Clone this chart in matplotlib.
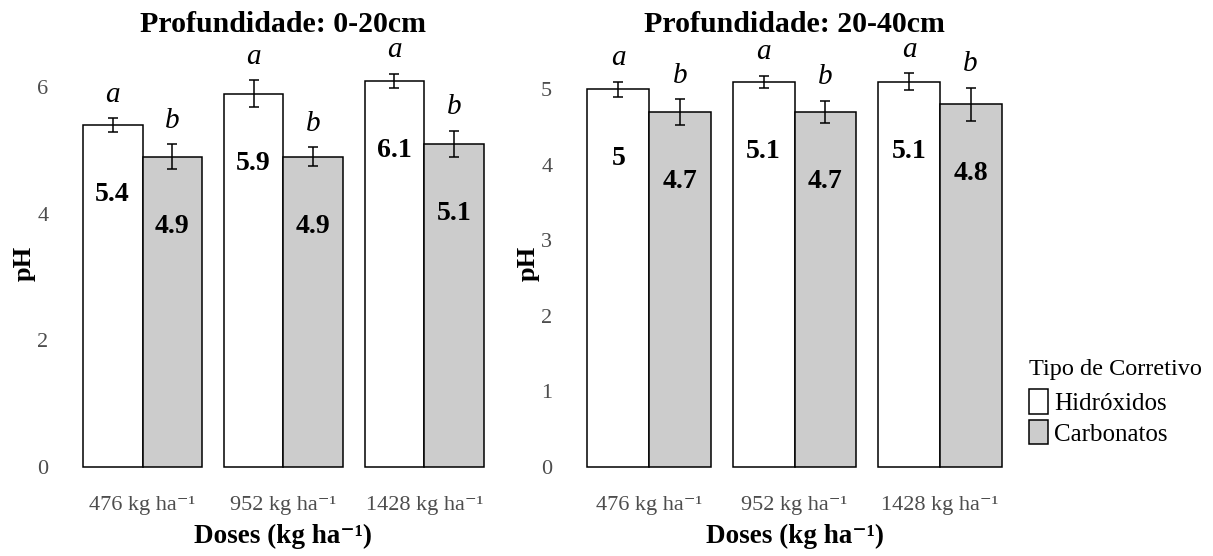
import numpy as np
import matplotlib.pyplot as plt
from matplotlib.patches import Patch

plt.rcParams['font.family'] = ['Liberation Serif', 'DejaVu Serif']

doses = ['476 kg ha⁻¹', '952 kg ha⁻¹', '1428 kg ha⁻¹']
tipos = ['Hidróxidos', 'Carbonatos']

# pH medio em cada camada
ph_0_20_hid = [5.4, 5.9, 6.1]
ph_0_20_carb = [4.9, 4.9, 5.1]
ph_20_40_hid = [5.0, 5.1, 5.1]
ph_20_40_carb = [4.7, 4.7, 4.8]

# erro padrao
ep_0_20_hid = [0.11, 0.21, 0.11]
ep_0_20_carb = [0.20, 0.15, 0.21]
ep_20_40_hid = [0.10, 0.08, 0.11]
ep_20_40_carb = [0.17, 0.15, 0.22]

# letras do teste de medias
letras_hid = ['a', 'a', 'a']
letras_carb = ['b', 'b', 'b']

cores = ['white', '#CCCCCC']
cinza = '#4D4D4D'


def painel(ax, hid, carb, ep_h, ep_c, titulo, ylim, yticks):
    x = np.arange(1, len(doses) + 1)
    w = 0.425
    for k, (vals, eps, letras) in enumerate([(hid, ep_h, letras_hid),
                                             (carb, ep_c, letras_carb)]):
        pos = x + (k - 0.5) * w
        ax.bar(pos, vals, w, color=cores[k], edgecolor='black', linewidth=1.1,
               zorder=2)
        ax.errorbar(pos, vals, yerr=eps, fmt='none', ecolor='black',
                    elinewidth=1.1, capsize=3.6, capthick=1.1, zorder=3)
        for p, v, e, l in zip(pos, vals, eps, letras):
            ax.annotate(f'{v:g}', (p, v), xytext=(0, -50),
                        textcoords='offset points', ha='center', va='center',
                        fontsize=20, fontweight='bold')
            ax.annotate(l, (p, v + e), xytext=(0, 17),
                        textcoords='offset points', ha='center', va='center',
                        fontsize=21, fontstyle='italic')
    ax.set_xlim(0.4, 3.6)
    ax.set_ylim(*ylim)
    ax.set_yticks(yticks)
    ax.set_xticks(x)
    ax.set_xticklabels(doses)
    for s in ax.spines.values():
        s.set_visible(False)
    ax.tick_params(length=0, colors=cinza, labelsize=16)
    ax.tick_params(axis='y', pad=7)
    ax.tick_params(axis='x', pad=6)
    ax.set_title(titulo, fontsize=21.5, fontweight='bold', pad=2)
    ax.set_xlabel('Doses (kg ha⁻¹)', fontsize=19.5, fontweight='bold',
                  labelpad=6)
    ax.set_ylabel('pH', fontsize=19, fontweight='bold', labelpad=1)


fig = plt.figure(figsize=(12.13, 5.56), dpi=100)
ax1 = fig.add_axes([0.0478, 0.1223, 0.3718, 0.8094])
ax2 = fig.add_axes([0.4633, 0.1223, 0.3834, 0.8094])

painel(ax1, ph_0_20_hid, ph_0_20_carb, ep_0_20_hid, ep_0_20_carb,
       'Profundidade: 0-20cm', (-0.34, 6.78), [0, 2, 4, 6])
painel(ax2, ph_20_40_hid, ph_20_40_carb, ep_20_40_hid, ep_20_40_carb,
       'Profundidade: 20-40cm', (-0.28, 5.68), [0, 1, 2, 3, 4, 5])

handles = [Patch(facecolor=c, edgecolor='black', linewidth=1.1) for c in cores]
leg = fig.legend(handles, tipos, title='Tipo de Corretivo', loc='upper left',
                 bbox_to_anchor=(0.834, 0.385), frameon=False, fontsize=18,
                 title_fontsize=17.5, handlelength=0.75, handleheight=1.15,
                 handletextpad=0.25, labelspacing=0.2, borderpad=0.2)
leg._legend_box.align = 'left'
leg._legend_box.sep = 6

fig.savefig('out.png', dpi=100)
